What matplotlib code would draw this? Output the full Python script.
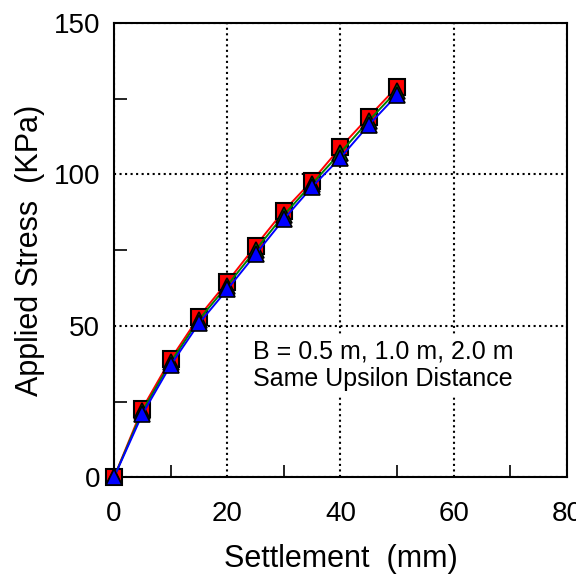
import matplotlib
matplotlib.use("Agg")
import matplotlib.pyplot as plt
from matplotlib.ticker import MultipleLocator

plt.rcParams['font.family'] = ['Liberation Sans', 'DejaVu Sans']

# settlement (mm) vs applied stress (kPa) for three footing widths
settlement = [0, 5, 10, 15, 20, 25, 30, 35, 40, 45, 50]
stress_b05 = [0, 22.7, 39.0, 53.0, 64.5, 76.4, 88.0, 97.9, 108.9, 119.0, 128.9]
stress_b10 = [0, 21.8, 38.0, 52.0, 63.3, 75.0, 86.6, 96.9, 107.2, 117.7, 127.6]
stress_b20 = [0, 20.8, 37.0, 50.8, 62.0, 73.6, 85.2, 95.9, 105.5, 116.3, 126.2]

fig = plt.figure(figsize=(5.76, 5.75), dpi=100)
ax = fig.add_axes([0.198, 0.170, 0.786, 0.790])

ax.plot(settlement, stress_b05, '-s', color='red', lw=1.4, ms=12,
        mfc='red', mec='black', mew=1.5, zorder=3, clip_on=False)
ax.plot(settlement, stress_b10, '-^', color='green', lw=1.4, ms=11,
        mfc='green', mec='black', mew=1.2, zorder=4, clip_on=False)
ax.plot(settlement, stress_b20, '-^', color='blue', lw=1.4, ms=11,
        mfc='blue', mec='black', mew=1.2, zorder=5, clip_on=False)

ax.set_xlim(0, 80)
ax.set_ylim(0, 150)
ax.xaxis.set_major_locator(MultipleLocator(20))
ax.xaxis.set_minor_locator(MultipleLocator(10))
ax.yaxis.set_major_locator(MultipleLocator(50))
ax.yaxis.set_minor_locator(MultipleLocator(25))
ax.tick_params(which='both', direction='in', width=1.2, labelsize=20)
ax.tick_params(axis='y', pad=10)
ax.tick_params(axis='x', pad=17)
ax.tick_params(which='major', length=0)
ax.tick_params(which='minor', length=9)
ax.grid(True, which='major', color='black', linestyle=':', lw=1.5)
for s in ax.spines.values():
    s.set_linewidth(1.5)

ax.set_xlabel('Settlement  (mm)', fontsize=22, labelpad=12)
ax.set_ylabel('Applied Stress  (KPa)', fontsize=22, labelpad=6)

ax.text(0.307, 0.247, 'B = 0.5 m, 1.0 m, 2.0 m\nSame Upsilon Distance',
        transform=ax.transAxes, fontsize=18, va='center', ha='left',
        linespacing=1.2, backgroundcolor='white', zorder=6)

fig.savefig('out.png', dpi=100)
